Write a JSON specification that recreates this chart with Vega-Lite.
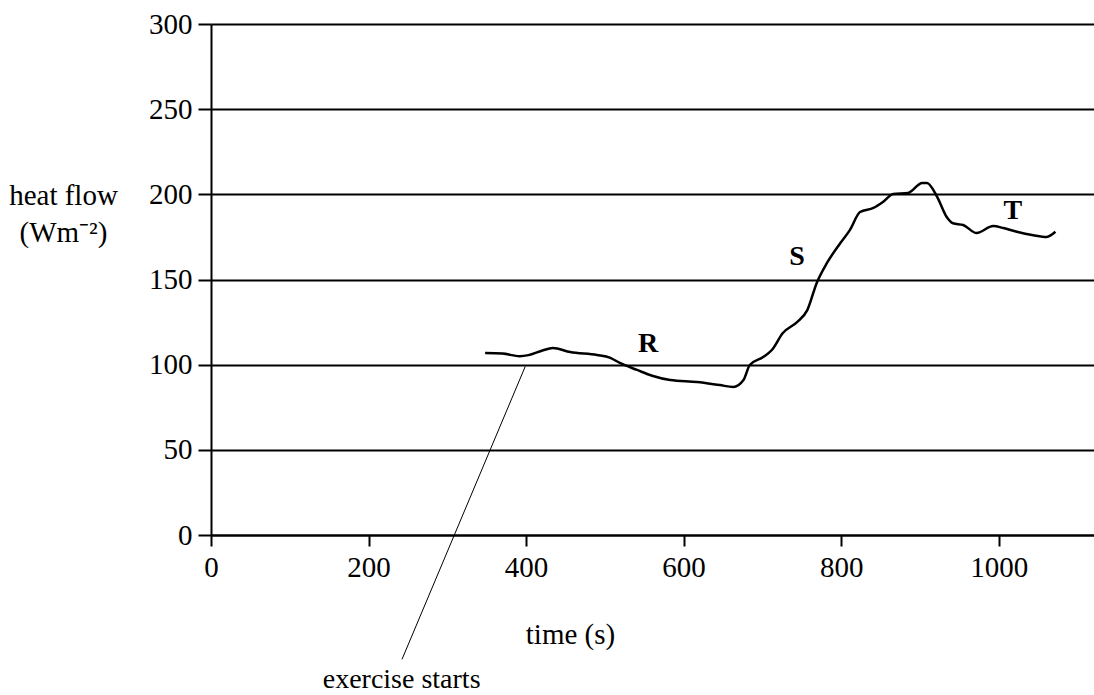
{
  "$schema": "https://vega.github.io/schema/vega-lite/v6.json",
  "width": 883,
  "height": 511,
  "autosize": "none",
  "padding": {"left": 211, "top": 24, "right": 0, "bottom": 160},
  "background": "white",
  "config": {
    "view": {"stroke": null},
    "font": "Liberation Serif",
    "axis": {"labelFont": "Liberation Serif", "titleFont": "Liberation Serif", "labelColor": "black", "titleColor": "black", "domainColor": "black", "tickColor": "black", "labelFontSize": 29, "titleFontSize": 29, "titleFontWeight": "normal", "labelFlush": false}
  },
  "datasets": {
    "curve": [
      {"t": 348, "q": 106.8},
      {"t": 370, "q": 106.5},
      {"t": 392, "q": 105},
      {"t": 403, "q": 105.6},
      {"t": 420, "q": 108.2},
      {"t": 434, "q": 109.8},
      {"t": 456, "q": 107.4},
      {"t": 490, "q": 105.7},
      {"t": 507, "q": 104},
      {"t": 519, "q": 101},
      {"t": 541, "q": 96.9},
      {"t": 560, "q": 93.5},
      {"t": 583, "q": 91},
      {"t": 617, "q": 89.8},
      {"t": 646, "q": 88},
      {"t": 663, "q": 86.9},
      {"t": 676, "q": 91},
      {"t": 684, "q": 99.8},
      {"t": 701, "q": 104.5},
      {"t": 712, "q": 108.6},
      {"t": 726, "q": 118.6},
      {"t": 744, "q": 125},
      {"t": 757, "q": 132},
      {"t": 769, "q": 148},
      {"t": 782, "q": 159.7},
      {"t": 799, "q": 171.4},
      {"t": 811, "q": 179},
      {"t": 824, "q": 189.6},
      {"t": 841, "q": 192},
      {"t": 853, "q": 195.5},
      {"t": 866, "q": 200.2},
      {"t": 885, "q": 200.8},
      {"t": 903, "q": 206.7},
      {"t": 909, "q": 206.7},
      {"t": 922, "q": 198.4},
      {"t": 934, "q": 186.7},
      {"t": 942, "q": 183},
      {"t": 955, "q": 182},
      {"t": 972, "q": 177.3},
      {"t": 993, "q": 181.4},
      {"t": 1006, "q": 180.2},
      {"t": 1023, "q": 178},
      {"t": 1044, "q": 176},
      {"t": 1061, "q": 175},
      {"t": 1072, "q": 178}
    ],
    "labels": [
      {"t": 555, "q": 112, "label": "R"},
      {"t": 744, "q": 163, "label": "S"},
      {"t": 1018, "q": 190, "label": "T"}
    ],
    "pointer": [
      {"t": 399, "q": 99, "t2": 242.5, "q2": -73}
    ],
    "note": [
      {"t": 242, "q": -85, "label": "exercise starts"}
    ]
  },
  "layer": [
    {
      "data": {"name": "curve"},
      "mark": {"type": "line", "color": "black", "strokeWidth": 2.5, "interpolate": "monotone"},
      "encoding": {
        "x": {"field": "t", "type": "quantitative", "scale": {"domain": [0, 1121], "nice": false},
          "axis": {"values": [0, 200, 400, 600, 800, 1000], "format": "d", "grid": false, "labelFlush": false, "domainWidth": 2, "tickWidth": 2, "tickSize": 11, "labelBaseline": "alphabetic", "labelPadding": 30, "title": "time (s)", "titleX": 359, "titleY": 99, "titleBaseline": "middle", "titleAnchor": null, "titleAlign": "center"}},
        "y": {"field": "q", "type": "quantitative", "scale": {"domain": [0, 300], "nice": false},
          "axis": {"values": [0, 50, 100, 150, 200, 250, 300], "format": "d", "grid": true, "labelFlush": false, "gridColor": "black", "gridWidth": 2, "gridOpacity": 1, "domainWidth": 2, "tickWidth": 2, "tickSize": 13, "labelPadding": 6,
            "title": ["heat flow", "(Wm⁻²)"], "titleAngle": 0, "titleX": -148, "titleY": 171, "titleAlign": "center", "titleBaseline": "middle", "titleLineHeight": 37, "titleAnchor": null}}
      }
    },
    {
      "data": {"name": "labels"},
      "mark": {"type": "text", "font": "Liberation Serif", "fontWeight": "bold", "fontSize": 28, "color": "black", "baseline": "middle", "align": "center"},
      "encoding": {
        "x": {"field": "t", "type": "quantitative"},
        "y": {"field": "q", "type": "quantitative"},
        "text": {"field": "label"}
      }
    },
    {
      "data": {"name": "pointer"},
      "mark": {"type": "rule", "color": "black", "strokeWidth": 1},
      "encoding": {
        "x": {"field": "t", "type": "quantitative"},
        "y": {"field": "q", "type": "quantitative"},
        "x2": {"field": "t2"},
        "y2": {"field": "q2"}
      }
    },
    {
      "data": {"name": "note"},
      "mark": {"type": "text", "font": "Liberation Serif", "fontSize": 28, "color": "black", "baseline": "middle", "align": "center"},
      "encoding": {
        "x": {"field": "t", "type": "quantitative"},
        "y": {"field": "q", "type": "quantitative"},
        "text": {"field": "label"}
      }
    }
  ]
}
